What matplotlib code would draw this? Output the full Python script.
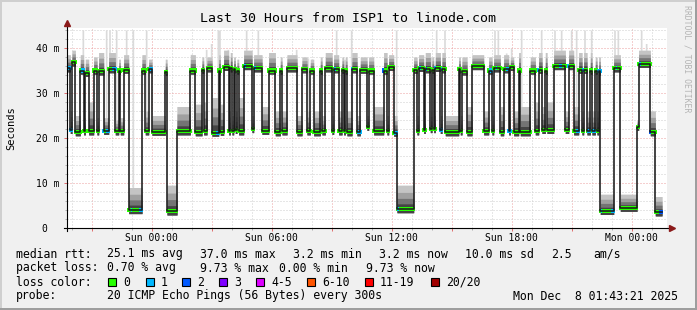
import numpy as np
import matplotlib
matplotlib.use("Agg")
import matplotlib.pyplot as plt
from matplotlib.patches import Rectangle

plt.rcParams["font.family"] = "DejaVu Sans Mono"

# median rtt (ms) for each run of 5-minute steps
seg_median = [35.5, 21.8, 36.8, 21.3, 35.0, 21.5, 34.5, 21.5, 35.0, 21.5,
              34.8, 21.6, 35.3, 21.5, 35.0, 21.5, 35.2, 4.0, 35.0, 21.5,
              35.3, 21.4, 34.7, 3.7, 21.5, 35.0, 21.3, 35.2, 21.5, 35.5,
              21.2, 35.0, 21.4, 35.8, 21.5, 35.5, 21.5, 35.3, 21.8, 35.0,
              21.5, 36.0, 22.0, 35.5, 21.6, 35.0, 21.3, 35.0, 21.5, 35.5,
              21.3, 35.3, 21.5, 35.0, 21.3, 35.0, 21.5, 35.5, 21.6, 35.3,
              21.5, 35.2, 21.5, 35.0, 21.3, 35.3, 21.3, 35.2, 22.5, 35.0,
              21.5, 35.0, 21.5, 35.8, 21.2, 4.2, 35.2, 21.5, 35.6, 21.8,
              35.3, 22.0, 35.2, 22.0, 35.6, 21.8, 35.3, 21.3, 35.3, 21.5,
              34.8, 21.3, 36.0, 21.5, 35.0, 21.5, 35.5, 21.3, 35.3, 21.5,
              35.8, 21.3, 35.0, 21.3, 35.0, 21.5, 35.2, 21.8, 35.0, 21.8,
              36.0, 21.8, 36.0, 21.5, 35.2, 21.5, 35.2, 21.5, 35.0, 21.5,
              35.0, 21.5, 34.8, 3.8, 35.5, 4.5, 22.5, 36.5, 21.3, 3.5]
# number of 5-minute steps in each run
seg_steps = [2, 1, 2, 3, 2, 1, 2, 3, 2, 1,
             3, 3, 4, 2, 1, 2, 3, 8, 2, 2,
             2, 8, 1, 6, 8, 3, 4, 1, 2, 3,
             4, 1, 2, 3, 1, 1, 1, 1, 1, 1,
             3, 5, 1, 5, 4, 4, 3, 1, 3, 6,
             3, 3, 2, 2, 4, 1, 2, 4, 1, 3,
             2, 1, 1, 1, 3, 3, 2, 4, 1, 3,
             6, 2, 1, 3, 2, 10, 2, 1, 3, 1,
             3, 1, 1, 1, 3, 1, 2, 8, 1, 1,
             3, 3, 7, 3, 2, 1, 4, 2, 3, 1,
             2, 3, 1, 6, 3, 2, 2, 2, 1, 4,
             7, 2, 3, 3, 2, 1, 2, 2, 1, 2,
             1, 1, 1, 8, 4, 10, 1, 7, 3, 4]
# upper edge of the dense smoke in each run (ms)
seg_top = [38.5, 26, 39.5, 25, 38.5, 24.5, 37.5, 28, 38, 24.5,
           39, 24.5, 39, 24, 37.5, 24.5, 38.5, 9, 38.5, 26,
           37.5, 25, 37.5, 9.5, 27, 38.5, 27.5, 38, 28, 38,
           29, 38.5, 27.5, 39.5, 26, 39, 25, 38, 26, 37.5,
           29, 39.5, 25, 38.5, 27, 39, 26, 38, 26, 38.5,
           25, 38, 26, 37.5, 26, 38, 25, 39, 25, 38.5,
           26, 38, 25, 38, 26, 39, 25, 38, 25, 38,
           27, 39, 25, 38.5, 25, 9.5, 38, 25, 38.5, 25,
           39, 26, 38, 25, 39, 25, 39, 25, 38, 25,
           38, 27, 38.5, 26, 38, 25, 38.5, 27, 38.5, 26,
           38, 26, 39, 27, 38, 28, 39, 27, 39, 28,
           39.5, 26, 39.5, 27, 39, 26, 39, 26, 39, 26,
           38, 26, 38, 7.5, 38.5, 7.5, 24, 39.5, 26, 7]

# single steps whose slowest ping sticks out high (step index, ms)
spike_step = [9, 23, 25, 29, 35, 39, 47, 74, 83, 86, 90, 91, 96, 100, 107,
              114, 123, 137, 144, 156, 161, 166, 170, 179, 182, 197, 209, 218,
              221, 226, 245, 256, 258, 263, 266, 272, 278, 284, 287, 292, 296,
              302, 305, 310, 314, 319, 328, 330, 344, 347]
spike_top = [44, 44, 44, 44, 44, 44, 44, 38.6, 39.7, 41, 44, 44, 39.7, 38, 44,
             44, 38.9, 39.7, 37.8, 38.9, 44, 37.5, 44, 38, 38, 44, 37, 38,
             44, 44, 37.5, 44, 44, 38.9, 40, 44, 35.3, 44, 37, 44, 44,
             44, 44, 44, 44, 38, 44, 44, 44, 41]

# steps with lost pings (index of 5-minute step, pings lost out of 20)
loss_step = [1, 2, 9, 22, 24, 28, 39, 44, 50, 90, 107, 113, 161, 171, 175,
             190, 197, 199, 212, 216, 221, 224, 225, 254, 258, 264, 265, 283,
             296, 297, 301, 306, 310, 313, 316, 319, 321, 327, 330, 344, 350, 356]
loss_count = [1, 1, 1, 1, 1, 1, 1, 1, 1, 1, 1, 1, 1, 1, 1,
              2, 1, 1, 1, 2, 1, 1, 1, 1, 1, 1, 1, 1,
              1, 1, 1, 1, 1, 1, 1, 1, 1, 1, 1, 1, 2, 2]

loss_labels = ["0", "1", "2", "3", "4-5", "6-10", "11-19", "20/20"]
loss_colors = ["#26ff00", "#00b8ff", "#0059ff", "#7e00ff",
               "#dd00ff", "#ff5500", "#ff0000", "#a10000"]

tick_hours = [0, 6, 12, 18, 24]
tick_names = ["Sun 00:00", "Sun 06:00", "Sun 12:00", "Sun 18:00", "Mon 00:00"]

rtt_row = ["median rtt:", "25.1 ms avg", "37.0 ms max", "3.2 ms min",
           "3.2 ms now", "10.0 ms sd", "2.5", "am/s"]
loss_row = ["packet loss:", "0.70 % avg", "9.73 % max", "0.00 % min", "9.73 % now"]
probe_row = ["probe:", "20 ICMP Echo Pings (56 Bytes) every 300s",
             "Mon Dec  8 01:43:21 2025"]

W, H = 697, 310
t0 = -4.235          # hours relative to Sun 00:00 at left edge
span_h = 30.0


def px(x, y):
    return x / W, 1 - y / H


fig = plt.figure(figsize=(W / 100, H / 100), dpi=100, facecolor="#f0f0f0")

# shaded frame
fig.add_artist(Rectangle((0, 1 - 2 / H), 1, 2 / H, transform=fig.transFigure, color="#cfcfcf", lw=0))
fig.add_artist(Rectangle((0, 0), 2 / W, 1, transform=fig.transFigure, color="#cfcfcf", lw=0))
fig.add_artist(Rectangle((0, 0), 1, 2 / H, transform=fig.transFigure, color="#9e9e9e", lw=0))
fig.add_artist(Rectangle((1 - 2 / W, 0), 2 / W, 1, transform=fig.transFigure, color="#9e9e9e", lw=0))

ax = fig.add_axes([67 / W, 82 / H, 600 / W, 200 / H])
ax.set_facecolor("white")
ax.set_xlim(t0, t0 + span_h)
ax.set_ylim(0, 200 / 4.5)
for s in ax.spines.values():
    s.set_visible(False)

# per-step series
med = np.repeat(seg_median, seg_steps).astype(float)
top = np.repeat(seg_top, seg_steps).astype(float)
n = len(med)
t_edges = t0 + np.arange(n + 1) / 12.0
top_full = top.copy()
top_full[spike_step] = np.maximum(top_full[spike_step], spike_top)
loss = np.zeros(n, dtype=int)
loss[loss_step] = loss_count


def edge(a):
    return np.append(a, a[-1])


# smoke, lighter far from the median
lo = med - 0.8
spread = top - med
ax.fill_between(t_edges, edge(lo), edge(top_full), step="post", color="#dadada",
                lw=0, zorder=2)
layers = [(1.0, "#c4c4c4"), (0.7, "#a0a0a0"), (0.45, "#747474"), (0.22, "#444444")]
for frac, col in layers:
    hi = med + frac * spread
    ax.fill_between(t_edges, edge(lo), edge(hi), step="post", color=col, lw=0, zorder=2)

# loss coloured median marks
ax.scatter(t_edges[:-1] + 0.5 / 12, med, marker="s", s=8.5, lw=0,
           c=[loss_colors[k] for k in loss], zorder=3)

# median line
ax.step(t_edges, edge(med), where="post", color="#1a1a1a", lw=1.15, zorder=4)

# grid
ax.set_xticks(np.arange(-3, 25, 3))
ax.set_xticks(np.arange(-4, 26, 1), minor=True)
ax.set_xticklabels([tick_names[tick_hours.index(h)] if h in tick_hours else ""
                    for h in range(-3, 25, 3)])
ax.set_yticks([0, 10, 20, 30, 40])
ax.set_yticklabels(["0  ", "10 m", "20 m", "30 m", "40 m"])
ax.set_yticks(np.arange(0, 45, 2), minor=True)
ax.grid(which="minor", color="#cfcfcf", lw=0.72, linestyle=(0, (1, 2)), zorder=0)
ax.grid(which="major", color="#eda0a0", lw=0.72, linestyle=(0, (1, 2)), zorder=0)
ax.set_axisbelow(True)
ax.tick_params(which="major", length=2.2, width=0.72, color="#e07070", direction="out",
               labelsize=7)
ax.tick_params(which="minor", length=1.4, width=0.72, color="#b0b0b0", direction="out")
ax.tick_params(axis="y", which="major", pad=3.4)
ax.tick_params(axis="x", which="major", pad=1.2)

# axes with arrows
ax.plot([0, 0], [-0.015, 1.02], transform=ax.transAxes, color="black", lw=0.8,
        clip_on=False, zorder=5)
ax.plot([-0.005, 1.005], [0, 0], transform=ax.transAxes, color="black", lw=0.8,
        clip_on=False, zorder=5)
ax.plot([0], [1.027], marker="^", ms=4.5, color="#8b1a1a", transform=ax.transAxes,
        clip_on=False, zorder=6)
ax.plot([1.008], [0], marker=">", ms=4.5, color="#8b1a1a", transform=ax.transAxes,
        clip_on=False, zorder=6)

# texts
fig.text(*px(347.5, 19), "Last 30 Hours from ISP1 to linode.com", ha="center",
         va="center", fontsize=9.5)
fig.text(*px(11, 128), "Seconds", rotation=90, ha="center", va="center", fontsize=7.5)
fig.text(*px(687, 5), "RRDTOOL / TOBI OETIKER", rotation=270, ha="center", va="top",
         fontsize=5.9, color="#b4b4b4")

fs = 8.3
for txt, x in zip(rtt_row, [16, 107, 200, 293, 379, 465, 551, 593]):
    fig.text(*px(x, 254), txt, ha="left", va="center", fontsize=fs)
for txt, x in zip(loss_row, [16, 107, 200, 279, 366]):
    fig.text(*px(x, 268), txt, ha="left", va="center", fontsize=fs)
fig.text(*px(16, 282), "loss color:", ha="left", va="center", fontsize=fs)
for lab, col, x in zip(loss_labels, loss_colors, [108, 146, 182, 219, 256, 307, 365, 431]):
    fig.add_artist(Rectangle(px(x, 286), 8 / W, 8 / H, transform=fig.transFigure,
                             facecolor=col, edgecolor="black", lw=0.8))
    fig.text(*px(x + 15, 282), lab, ha="left", va="center", fontsize=fs)
for txt, x in zip(probe_row, [16, 107, 513]):
    fig.text(*px(x, 296), txt, ha="left", va="center", fontsize=fs)

fig.savefig("out.png", dpi=100, facecolor=fig.get_facecolor())
